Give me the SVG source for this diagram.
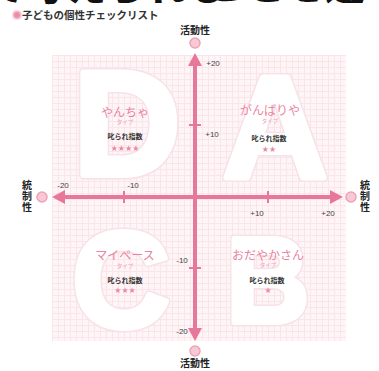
<svg xmlns="http://www.w3.org/2000/svg" width="379" height="371" viewBox="0 0 379 371">
<style>
.jp{font-family:"Noto Sans CJK JP","Noto Sans",sans-serif}
.lbl{font-family:"Liberation Sans",Arial,sans-serif;font-size:8px;fill:#444;text-anchor:middle}
.axl{font-family:"Noto Sans CJK JP",sans-serif;font-size:10px;font-weight:bold;fill:#222;text-anchor:middle}
.ax{stroke:#e8789a;stroke-width:4;fill:none}
.tick{stroke:#e8789a;stroke-width:2}
.head{fill:#e8789a}
.end{fill:#f6c9d4;stroke:#eea2b5;stroke-width:1.5}
.big{font-family:"Liberation Sans",Arial,sans-serif;font-weight:bold;text-anchor:middle}
.bigo{fill:#f6e2e8;stroke:#f6e2e8;stroke-width:9;stroke-linejoin:round}
.bigw{fill:#fff;stroke:#fff;stroke-width:6;stroke-linejoin:round}
.tname{font-size:12px;fill:#e9839f;text-anchor:middle}
.ttype{font-size:5.5px;fill:#eea3b5;text-anchor:middle}
.tscore{font-size:7px;font-weight:bold;fill:#333;text-anchor:middle}
.star{font-family:"DejaVu Sans",sans-serif;font-size:8px;fill:#ec8aa5;text-anchor:middle}
</style>
<defs>
<pattern id="grid" x="52" y="55" width="6" height="6" patternUnits="userSpaceOnUse">
<rect width="6" height="6" fill="#fef5f7"/>
<path d="M0 0.5H6M0.5 0V6" stroke="#fbe4ea" stroke-width="1"/>
</pattern>
<filter id="blur"><feGaussianBlur stdDeviation="0.8"/></filter>
</defs>
<rect width="379" height="371" fill="#fff"/>
<g id="headline">
<text x="-14" y="0" class="jp" font-size="40" font-weight="900" fill="#111">て考えられる</text>
<text x="205" y="0" class="jp" font-size="40" font-weight="400" fill="#111">ことを述べて</text>
</g>
<g id="title">
<circle cx="17" cy="15" r="4" fill="#ee8aa6" filter="url(#blur)"/>
<text x="22" y="19" class="jp" font-size="10.5" font-weight="bold" fill="#333">子どもの個性チェックリスト</text>
</g>
<rect id="background" x="52" y="55" width="294" height="286" fill="url(#grid)"/>
<g id="quadrant-D">
<text x="127" y="175" class="big bigo" font-size="148">D</text>
<text x="127" y="175" class="big bigw" font-size="148">D</text>
<text x="125" y="117" class="jp tname">やんちゃ</text>
<text x="125" y="124" class="jp ttype">タイプ</text>
<text x="125" y="139" class="jp tscore">叱られ指数</text>
<text x="125" y="151" class="star">★★★★</text>
</g>
<g id="quadrant-A">
<text x="275" y="177" class="big bigo" font-size="145">A</text>
<text x="275" y="177" class="big bigw" font-size="145">A</text>
<text x="270" y="115" class="jp tname">がんばりや</text>
<text x="270" y="123" class="jp ttype">タイプ</text>
<text x="269" y="141" class="jp tscore">叱られ指数</text>
<text x="269" y="152" class="star">★★</text>
</g>
<g id="quadrant-C">
<text x="121" y="327" class="big bigo" font-size="135">C</text>
<text x="121" y="327" class="big bigw" font-size="135">C</text>
<text x="125" y="260" class="jp tname">マイペース</text>
<text x="125" y="268" class="jp ttype">タイプ</text>
<text x="125" y="283" class="jp tscore">叱られ指数</text>
<text x="125" y="293" class="star">★★★</text>
</g>
<g id="quadrant-B">
<text x="268" y="322" class="big bigo" font-size="120" transform="translate(268 322) scale(0.95 1) translate(-268 -322)">B</text>
<text x="268" y="322" class="big bigw" font-size="120" transform="translate(268 322) scale(0.95 1) translate(-268 -322)">B</text>
<text x="268" y="260" class="jp tname">おだやかさん</text>
<text x="268" y="267" class="jp ttype">タイプ</text>
<text x="267" y="283" class="jp tscore">叱られ指数</text>
<text x="268" y="293" class="star">★</text>
</g>
<g id="connectors">
<line class="ax" x1="195" y1="64" x2="195" y2="332"/>
<line class="ax" x1="62" y1="197" x2="334" y2="197"/>
<polygon class="head" points="195,53 188,66 202,66"/>
<polygon class="head" points="195,341 188,328 202,328"/>
<polygon class="head" points="52,197 65,190 65,204"/>
<polygon class="head" points="343,197 330,190 330,204"/>
<line class="tick" x1="189" y1="125" x2="201" y2="125"/>
<line class="tick" x1="189" y1="268" x2="201" y2="268"/>
<line class="tick" x1="124" y1="191" x2="124" y2="203"/>
<line class="tick" x1="268" y1="191" x2="268" y2="203"/>
</g>
<g id="axis-ends">
<circle class="end" cx="195" cy="43" r="5"/>
<circle class="end" cx="195" cy="351" r="5"/>
<circle class="end" cx="42" cy="197" r="5"/>
<circle class="end" cx="351" cy="197" r="5"/>
</g>
<g id="axis-labels">
<text x="195" y="34" class="axl">活動性</text>
<text x="195" y="367" class="axl">活動性</text>
<text x="27" y="189" class="axl">統</text>
<text x="27" y="200" class="axl">制</text>
<text x="27" y="211" class="axl">性</text>
<text x="365" y="189" class="axl">統</text>
<text x="365" y="200" class="axl">制</text>
<text x="365" y="211" class="axl">性</text>
</g>
<g id="scale">
<text x="213" y="66" class="lbl">+20</text>
<text x="212" y="137" class="lbl">+10</text>
<text x="182" y="263" class="lbl">-10</text>
<text x="182" y="334" class="lbl">-20</text>
<text x="63" y="188" class="lbl">-20</text>
<text x="133" y="188" class="lbl">-10</text>
<text x="257" y="216" class="lbl">+10</text>
<text x="328" y="216" class="lbl">+20</text>
</g>
</svg>
